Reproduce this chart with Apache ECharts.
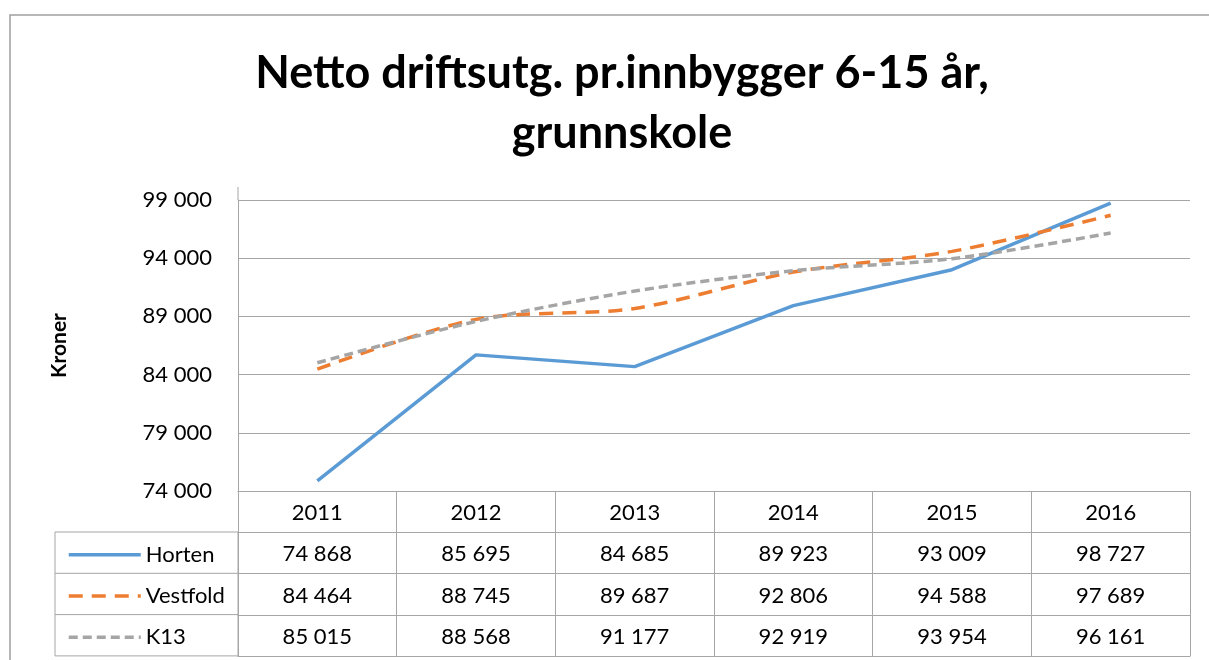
<!DOCTYPE html>
<html>
<head>
<meta charset="utf-8">
<title>Netto driftsutg. pr.innbygger 6-15 år, grunnskole</title>
<script src="https://cdn.jsdelivr.net/npm/echarts@6/dist/echarts.min.js"></script>
<style>
  html, body { margin: 0; padding: 0; background: #fff; }
  #main { width: 1209px; height: 660px; }
</style>
</head>
<body>
<div id="main"></div>
<script>
// data
var years = ['2011', '2012', '2013', '2014', '2015', '2016'];
var horten = [74868, 85695, 84685, 89923, 93009, 98727];
var vestfold = [84464, 88745, 89687, 92806, 94588, 97689];
var k13 = [85015, 88568, 91177, 92919, 93954, 96161];
var seriesNames = ['Horten', 'Vestfold', 'K13'];
var yMin = 74000, yMax = 99000, yStep = 5000;

var FONT = 'Lato';
var gridColor = '#a6a6a6';
var rowH = 41.3; // høyde på tabellrader
var tableTop = 532; // første dataraden i tabellen

// 74868 -> "74 868"
function fmt(v) {
    return String(v).replace(/\B(?=(\d{3})+(?!\d))/g, ' ');
}

var chart = echarts.init(document.getElementById('main'));

// en x-akse per tabellrad, rad 0 = årstall
function tableAxis(i, values) {
    return {
        type: 'category',
        data: years,
        position: 'bottom',
        offset: i * rowH,
        boundaryGap: true,
        axisLine: { show: true, lineStyle: { color: gridColor, width: 1 } },
        axisTick: { show: values !== null, length: rowH, lineStyle: { color: gridColor, width: 1 } },
        axisLabel: {
            show: values !== null,
            fontFamily: FONT,
            fontSize: 22,
            color: '#000',
            margin: 22,
            verticalAlign: 'middle',
            formatter: function (val, idx) {
                return values === 'years' ? val : fmt(values[idx]);
            }
        },
        splitLine: { show: false }
    };
}

// én legend per rad, så hver havner i sin tabellrad
function rowLegend(name, i) {
    return {
        orient: 'horizontal',
        left: 62,
        top: tableTop + i * rowH + rowH / 2 - 14,
        height: 24,
        itemWidth: 72,
        itemHeight: 24,
        data: [name],
        itemStyle: { color: 'rgba(0,0,0,0)', borderWidth: 0 },
        lineStyle: { width: 3.5 },
        textStyle: { fontFamily: FONT, fontSize: 22, color: '#000' }
    };
}

var option = {
    animation: false,
    backgroundColor: '#fff',
    title: {
        text: 'Netto driftsutg. pr.innbygger 6-15 år,\ngrunnskole',
        left: 617,
        top: 38,
        textAlign: 'center',
        textStyle: {
            fontFamily: FONT,
            fontWeight: 'bold',
            fontSize: 45,
            lineHeight: 60,
            color: '#000'
        }
    },
    legend: seriesNames.map(rowLegend),
    grid: {
        left: 238,
        right: 19,
        top: 200,
        bottom: 169
    },
    xAxis: [
        tableAxis(0, 'years'),
        tableAxis(1, horten),
        tableAxis(2, vestfold),
        tableAxis(3, k13),
        tableAxis(4, null)
    ],
    yAxis: {
        type: 'value',
        min: yMin,
        max: yMax,
        interval: yStep,
        name: 'Kroner',
        nameLocation: 'middle',
        nameRotate: 90,
        nameGap: 168,
        nameTextStyle: { fontFamily: FONT, fontWeight: 'bold', fontSize: 21, color: '#000' },
        axisLine: { show: true, lineStyle: { color: gridColor } },
        axisTick: { show: false },
        axisLabel: {
            fontFamily: FONT,
            fontSize: 22,
            color: '#000',
            margin: 26,
            formatter: function (v) { return fmt(v); }
        },
        splitLine: { lineStyle: { color: gridColor, width: 1 } }
    },
    series: [
        {
            name: 'Horten',
            type: 'line',
            data: horten,
            symbol: 'none',
            itemStyle: { color: '#5b9bd5' },
            lineStyle: { color: '#5b9bd5', width: 3.5 }
        },
        {
            name: 'Vestfold',
            type: 'line',
            data: vestfold,
            symbol: 'none',
            smooth: 0.3,
            itemStyle: { color: '#ed7d31' },
            lineStyle: { color: '#ed7d31', width: 3.5, type: [14, 9] }
        },
        {
            name: 'K13',
            type: 'line',
            data: k13,
            symbol: 'none',
            smooth: 0.3,
            itemStyle: { color: '#a5a5a5' },
            lineStyle: { color: '#a5a5a5', width: 3.5, type: [9, 5] }
        }
    ],
    graphic: [
        // ytre ramme
        {
            type: 'rect',
            shape: { x: 10, y: 15, width: 1250, height: 700 },
            style: { fill: null, stroke: '#a0a0a0', lineWidth: 1.5 },
            silent: true
        },
        // venstre del av tabellen (forklaringskolonnen)
        {
            type: 'rect',
            shape: { x: 55, y: tableTop, width: 183, height: rowH * 3 },
            style: { fill: null, stroke: gridColor, lineWidth: 1 },
            silent: true
        },
        {
            type: 'line',
            shape: { x1: 55, y1: tableTop + rowH, x2: 238, y2: tableTop + rowH },
            style: { stroke: gridColor, lineWidth: 1 },
            silent: true
        },
        {
            type: 'line',
            shape: { x1: 55, y1: tableTop + rowH * 2, x2: 238, y2: tableTop + rowH * 2 },
            style: { stroke: gridColor, lineWidth: 1 },
            silent: true
        },
        // y-aksen går litt over øverste gitterlinje
        {
            type: 'line',
            shape: { x1: 238, y1: 187, x2: 238, y2: 200 },
            style: { stroke: gridColor, lineWidth: 1 },
            silent: true
        }
    ]
};

chart.setOption(option);
</script>
</body>
</html>
